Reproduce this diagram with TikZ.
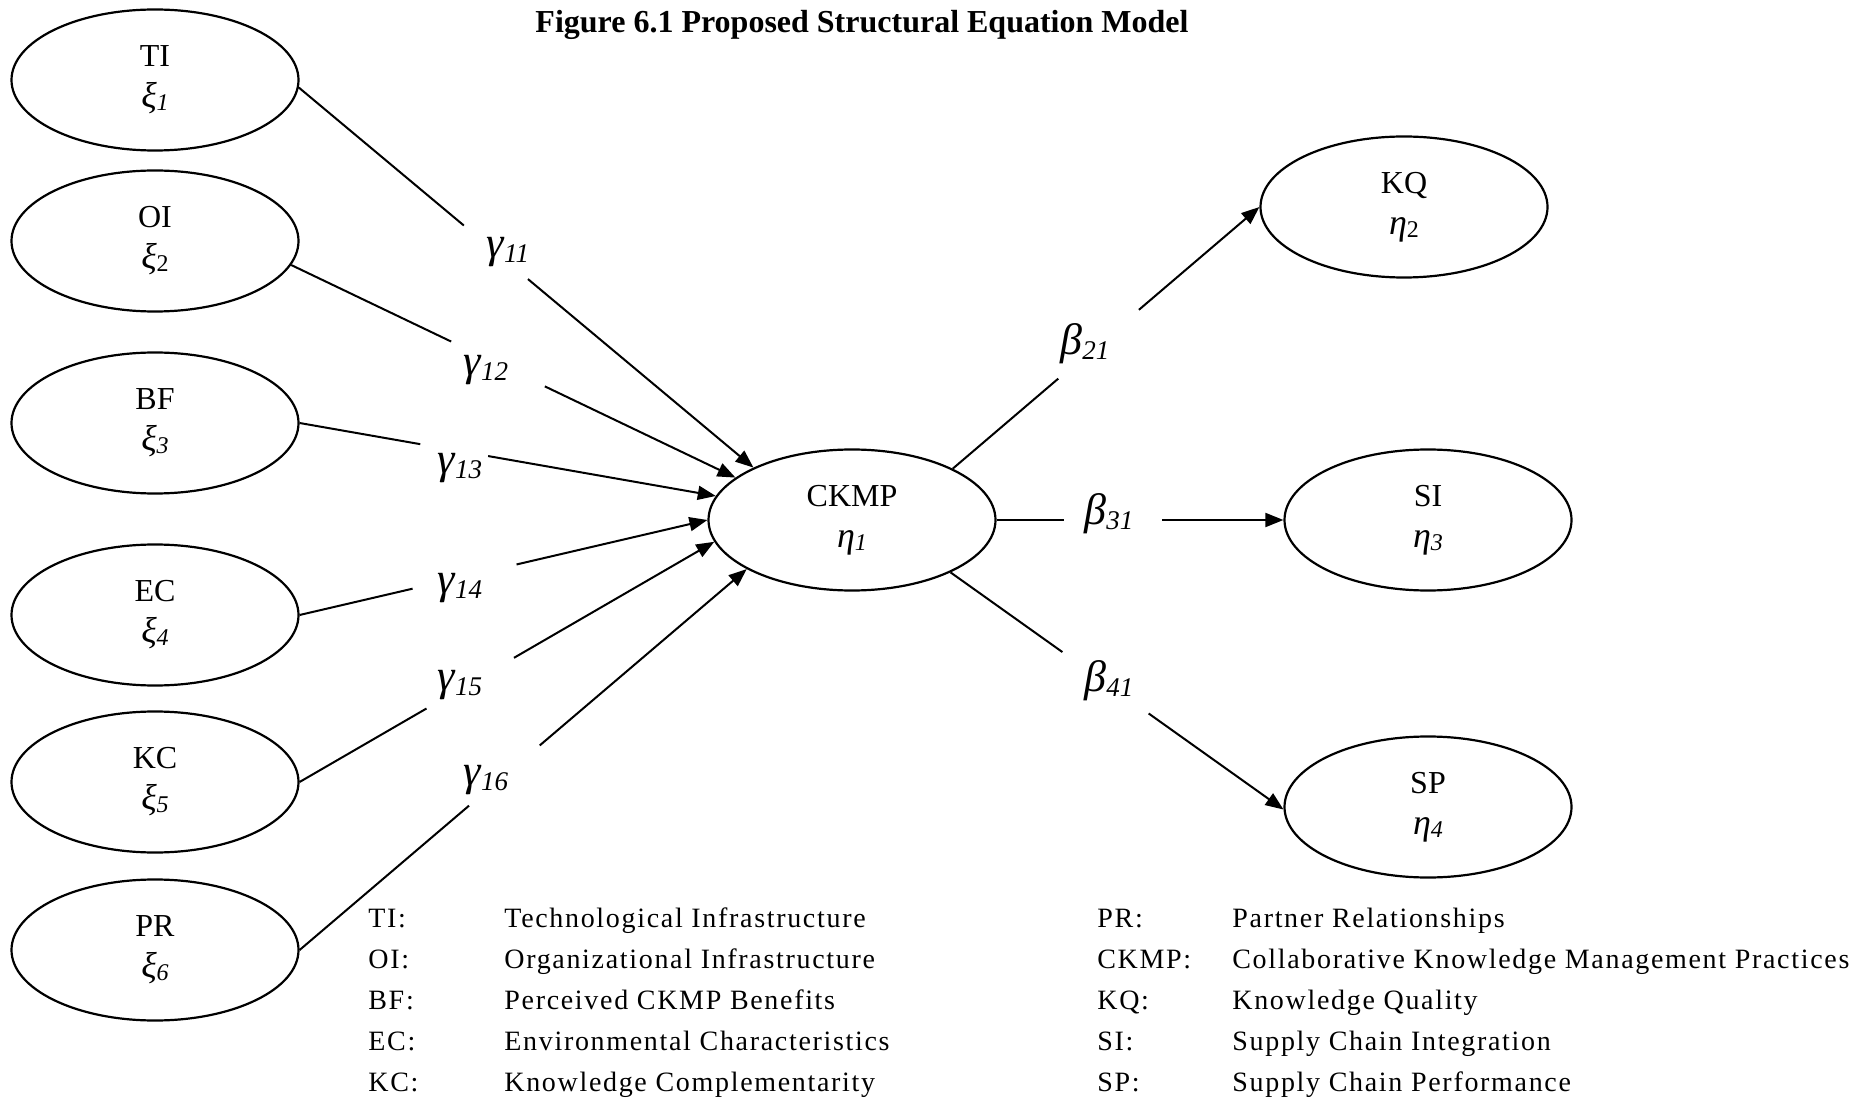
\documentclass[tikz,border=0pt]{standalone}
\usepackage{fontspec}
\setmainfont{Liberation Serif}
\usetikzlibrary{arrows.meta,calc,shapes.geometric}

% Greek symbol with a small subscript, as set inside the ellipses
\newcommand{\vsym}[2]{{\fontsize{18}{18}\selectfont\itshape #1}\raisebox{-1.5pt}{\fontsize{12}{12}\selectfont\itshape #2}}
\newcommand{\vsymup}[2]{{\fontsize{18}{18}\selectfont\itshape #1}\raisebox{-1.5pt}{\fontsize{12}{12}\selectfont #2}}
% path coefficients on the connectors
\newcommand{\coef}[2]{{\fontsize{22}{22}\selectfont\itshape #1}\raisebox{-2.5pt}{\fontsize{13.5}{13.5}\selectfont\itshape #2}}
% connector interrupted by its coefficient label: start, end, gap start, gap end
\newcommand{\gapline}[4]{%
  \draw[conn] (#1) -- ($(#1)!#3!(#2)$);
  \draw[conn,-{Triangle[length=9pt,width=7pt]}] ($(#1)!#4!(#2)$) -- (#2);}

\begin{document}
\begin{tikzpicture}[x=0.5pt,y=-0.5pt,
  latent/.style={ellipse, draw, line width=1.1pt, minimum width=143.5pt,
    minimum height=70.5pt, inner sep=0pt, align=center,
    font=\fontsize{16}{20.5}\selectfont},
  coefl/.style={inner sep=0pt},
  conn/.style={line width=1pt},
  legend/.style={anchor=base west, inner sep=0pt,
    font=\fontsize{14}{14}\selectfont\addfontfeature{LetterSpace=6}}]

\fill[white] (0,0) rectangle (1874,1101);
\useasboundingbox (0,0) rectangle (1874,1101);

\node[anchor=base, inner sep=0pt, font=\fontsize{16}{16}\selectfont\bfseries]
  (title) at (862,33) {Figure 6.1 Proposed Structural Equation Model};

% exogenous constructs
\node[latent] (TI) at (155,80)  {TI\\\vsym{ξ}{1}};
\node[latent] (OI) at (155,241) {OI\\\vsymup{ξ}{2}};
\node[latent] (BF) at (155,423) {BF\\\vsym{ξ}{3}};
\node[latent] (EC) at (155,615) {EC\\\vsym{ξ}{4}};
\node[latent] (KC) at (155,782) {KC\\\vsym{ξ}{5}};
\node[latent] (PR) at (155,950) {PR\\\vsym{ξ}{6}};

% endogenous constructs
\node[latent] (CKMP) at (852,520)  {CKMP\\\vsym{η}{1}};
\node[latent] (KQ)   at (1404,207) {KQ\\\vsymup{η}{2}};
\node[latent] (SI)   at (1428,520) {SI\\\vsym{η}{3}};
\node[latent] (SP)   at (1428,807) {SP\\\vsym{η}{4}};

% coefficient labels
\node[coefl] (g11) at (508,252) {\coef{γ}{11}};
\node[coefl] (g12) at (486,370) {\coef{γ}{12}};
\node[coefl] (g13) at (460,468) {\coef{γ}{13}};
\node[coefl] (g14) at (460,588) {\coef{γ}{14}};
\node[coefl] (g15) at (460,685) {\coef{γ}{15}};
\node[coefl] (g16) at (486,780) {\coef{γ}{16}};
\node[coefl] (b21) at (1085,344) {\coef{β}{21}};
\node[coefl] (b31) at (1109,514) {\coef{β}{31}};
\node[coefl] (b41) at (1109,681) {\coef{β}{41}};

% structural paths
\gapline{TI.-3}{CKMP.152.3}{0.363}{0.504}
\gapline{OI.-10}{CKMP.160.6}{0.36}{0.571}
\gapline{BF.east}{CKMP.170.6}{0.29}{0.453}
\gapline{EC.east}{CKMP.west}{0.277}{0.532}
\gapline{KC.east}{CKMP.189.1}{0.306}{0.517}
\gapline{PR.east}{CKMP.205.7}{0.379}{0.537}
\gapline{CKMP.27.4}{KQ.west}{0.344}{0.607}
\gapline{CKMP.east}{SI.west}{0.235}{0.578}
\gapline{CKMP.-28.4}{SP.181}{0.336}{0.595}

% legend
\node[legend] (la1) at (368,927)  {TI:};
\node[legend] (la2) at (368,968)  {OI:};
\node[legend] (la3) at (368,1009) {BF:};
\node[legend] (la4) at (368,1050) {EC:};
\node[legend] (la5) at (368,1091) {KC:};
\node[legend] (ld1) at (504,927)  {Technological Infrastructure};
\node[legend] (ld2) at (504,968)  {Organizational Infrastructure};
\node[legend] (ld3) at (504,1009) {Perceived CKMP Benefits};
\node[legend] (ld4) at (504,1050) {Environmental Characteristics};
\node[legend] (ld5) at (504,1091) {Knowledge Complementarity};
\node[legend] (lb1) at (1097,927)  {PR:};
\node[legend] (lb2) at (1097,968)  {CKMP:};
\node[legend] (lb3) at (1097,1009) {KQ:};
\node[legend] (lb4) at (1097,1050) {SI:};
\node[legend] (lb5) at (1097,1091) {SP:};
\node[legend] (le1) at (1232,927)  {Partner Relationships};
\node[legend] (le2) at (1232,968)  {Collaborative Knowledge Management Practices};
\node[legend] (le3) at (1232,1009) {Knowledge Quality};
\node[legend] (le4) at (1232,1050) {Supply Chain Integration};
\node[legend] (le5) at (1232,1091) {Supply Chain Performance};
\end{tikzpicture}
\end{document}
